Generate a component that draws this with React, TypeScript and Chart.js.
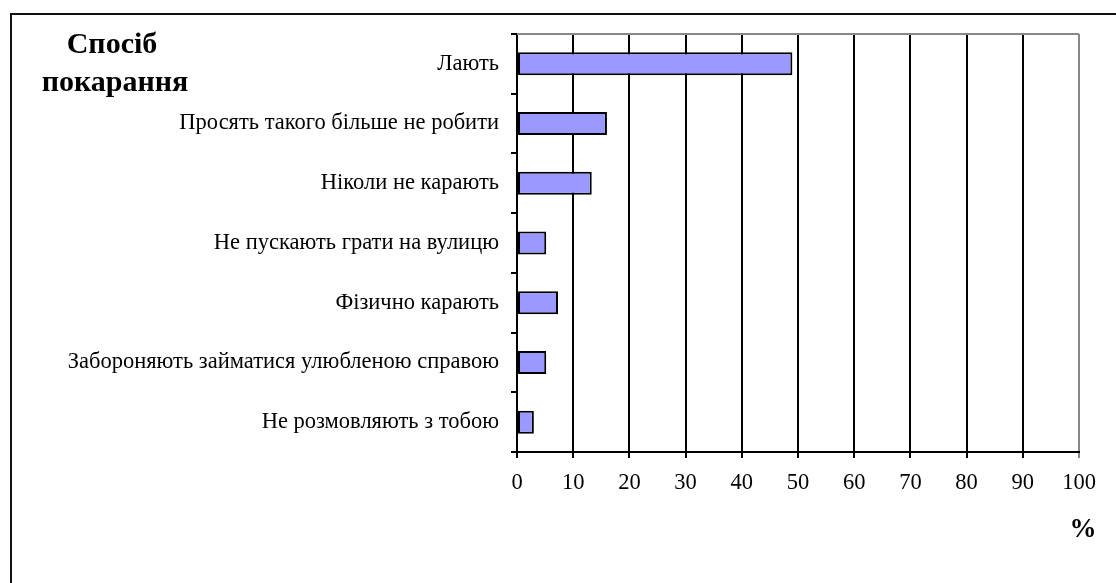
import React, { useEffect, useRef } from "react";
import { Chart, registerables } from "chart.js";

Chart.register(...registerables);

const categories = [
  "Лають",
  "Просять такого більше не робити",
  "Ніколи не карають",
  "Не пускають грати на вулицю",
  "Фізично карають",
  "Забороняють займатися улюбленою справою",
  "Не розмовляють з тобою",
];
const values = [49, 16, 13.3, 5.2, 7.3, 5.2, 3];
const titleLines = ["Спосіб", "покарання"];
const unitLabel = "%";
const xMin = 0;
const xMax = 100;
const xStep = 10;

const FONT = "'Liberation Serif', 'Times New Roman', serif";

const decor = {
  id: "decor",
  afterDraw(chart: any) {
    const ctx = chart.ctx;
    const ca = chart.chartArea;
    ctx.save();
    // outer frame
    ctx.strokeStyle = "#111";
    ctx.lineWidth = 2;
    ctx.strokeRect(11, 14, 1300, 800);
    // plot top border
    ctx.strokeStyle = "#888";
    ctx.lineWidth = 2;
    ctx.beginPath();
    ctx.moveTo(ca.left, ca.top);
    ctx.lineTo(ca.right, ca.top);
    ctx.stroke();
    // title
    ctx.fillStyle = "#000";
    ctx.font = `bold 30px ${FONT}`;
    ctx.textAlign = "center";
    ctx.textBaseline = "alphabetic";
    ctx.fillText(titleLines[0], 112, 53);
    ctx.fillText(titleLines[1], 115, 91);
    // unit
    ctx.font = `bold 27px ${FONT}`;
    ctx.fillText(unitLabel, 1083, 537);
    ctx.restore();
  },
};

export default function App() {
  const ref = useRef<HTMLCanvasElement | null>(null);
  useEffect(() => {
    if (!ref.current) return;
    const chart = new Chart(ref.current, {
      type: "bar",
      data: {
        labels: categories,
        datasets: [
          {
            data: values,
            backgroundColor: "#9999FF",
            borderColor: "#000",
            borderWidth: 2,
            borderSkipped: false,
            barPercentage: 0.385,
            categoryPercentage: 1,
          },
        ],
      },
      options: {
        indexAxis: "y",
        animation: false,
        responsive: false,
        maintainAspectRatio: false,
        layout: { padding: { top: 34, right: 37, left: 0, bottom: 0 } },
        plugins: {
          legend: { display: false },
          tooltip: { enabled: false },
        },
        scales: {
          x: {
            type: "linear",
            min: xMin,
            max: xMax,
            afterFit: (s: any) => {
              s.height = 131;
            },
            ticks: {
              stepSize: xStep,
              color: "#000",
              font: { family: FONT, size: 22.5 },
              padding: 12,
              maxRotation: 0,
            },
            grid: {
              color: (c: any) => (c.tick && c.tick.value === 100 ? "#888" : "#000"),
              lineWidth: 2,
              tickLength: 6,
              drawTicks: true,
            },
            border: { color: "#000", width: 2 },
          },
          y: {
            type: "category",
            afterFit: (s: any) => {
              s.width = 517;
            },
            ticks: {
              color: "#000",
              font: { family: FONT, size: 22.5 },
              padding: 12,
            },
            grid: {
              drawOnChartArea: false,
              drawTicks: true,
              tickLength: 6,
              color: "#000",
              lineWidth: 2,
            },
            border: { color: "#000", width: 2 },
          },
        },
      },
      plugins: [decor],
    });
    return () => chart.destroy();
  }, []);
  return (
    <div style={{ position: "absolute", left: 0, top: 0, width: 1116, height: 583, background: "#fff" }}>
      <canvas ref={ref} width={1116} height={583} style={{ display: "block" }} />
    </div>
  );
}
